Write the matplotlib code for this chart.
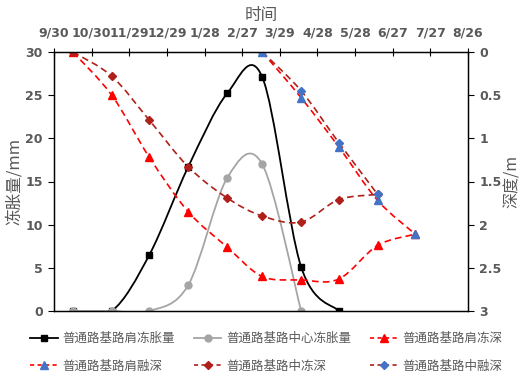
import numpy as np
import matplotlib
matplotlib.use("Agg")
import matplotlib.pyplot as plt
import matplotlib.dates as mdates
from matplotlib.path import Path
from matplotlib.patches import PathPatch
from matplotlib.lines import Line2D
import datetime as dt

plt.rcParams['font.family'] = ['Noto Sans CJK SC', 'DejaVu Sans']

# ---------------- data ----------------
dates = ['2018-10-15', '2018-11-15', '2018-12-15', '2019-01-15', '2019-02-15',
         '2019-03-15', '2019-04-15', '2019-05-15', '2019-06-15', '2019-07-15']
tick_labels = ['9/30', '10/30', '11/29', '12/29', '1/28', '2/27', '3/29',
               '4/28', '5/28', '6/27', '7/27', '8/26']

shoulder_heave = [0, 0, 6.5, 16.7, 25.2, 27.1, 5.1, 0]          # 10/15 .. 5/15
center_heave = [0, 0, 0, 3.0, 15.4, 17.0, 0]                    # 10/15 .. 4/15
shoulder_freeze = [0, 0.50, 1.22, 1.85, 2.26, 2.60, 2.64, 2.63, 2.24, 2.11]  # 10/15 .. 7/15
shoulder_thaw = [0, 0.53, 1.10, 1.72, 2.11]                      # 3/15 .. 7/15
center_freeze = [0, 0.28, 0.79, 1.33, 1.69, 1.90, 1.97, 1.71, 1.65]          # 10/15 .. 6/15
center_thaw = [0, 0.45, 1.05, 1.65]                              # 3/15 .. 6/15

labels = ['普通路基路肩冻胀量', '普通路基路中心冻胀量', '普通路基路肩冻深',
          '普通路基路肩融深', '普通路基路中冻深', '普通路基路中融深']

x_all = mdates.date2num([dt.datetime.strptime(d, '%Y-%m-%d') for d in dates])
start = mdates.date2num(dt.datetime(2018, 9, 30))
tick_pos = start + 30 * np.arange(len(tick_labels))


def smooth_path(xs, ys):
    pts = np.column_stack([xs, ys]).astype(float)
    n = len(pts)
    verts = [pts[0]]
    codes = [Path.MOVETO]
    for i in range(n - 1):
        p0 = pts[i - 1] if i > 0 else pts[i]
        p1 = pts[i]
        p2 = pts[i + 1]
        p3 = pts[i + 2] if i + 2 < n else pts[i + 1]
        c1 = p1 + (p2 - p0) / 6.0
        c2 = p2 - (p3 - p1) / 6.0
        verts += [c1, c2, p2]
        codes += [Path.CURVE4] * 3
    return Path(verts, codes)


GRAY_TXT = '#595959'
fig = plt.figure(figsize=(5.21, 3.77), dpi=100)
ax = fig.add_axes([54 / 521, 1 - 311 / 377, (468 - 54) / 521, (311 - 52) / 377])
ax2 = ax.twinx()

series = [
    # axis, x, y, line color, ls, marker, marker color, ms
    (ax, x_all[:8], shoulder_heave, 'black', '-', 's', 'black', 5),
    (ax, x_all[:7], center_heave, '#A5A5A5', '-', 'o', '#A5A5A5', 5),
    (ax2, x_all[:10], shoulder_freeze, '#FF0000', '--', '^', '#FF0000', 5.5),
    (ax2, x_all[5:10], shoulder_thaw, '#FF0000', '--', '^', '#4472C4', 5.5),
    (ax2, x_all[:9], center_freeze, '#B0201A', '--', 'D', '#B0201A', 4),
    (ax2, x_all[5:9], center_thaw, '#B0201A', '--', 'D', '#4472C4', 4),
]

handles = []
for (a, xs, ys, lc, ls, mk, mc, ms), lab in zip(series, labels):
    lw = 1.3 if ls == '-' else 1.2
    patch = PathPatch(smooth_path(xs, ys), facecolor='none', edgecolor=lc,
                      lw=lw, linestyle=(0, (4, 2.5)) if ls == '--' else '-',
                      clip_on=True)
    a.add_patch(patch)
    a.plot(xs, ys, linestyle='none', marker=mk, color=mc, markersize=ms,
           markeredgecolor=mc)
    handles.append(Line2D([], [], color=lc, lw=lw,
                          linestyle=(0, (2.5, 2)) if ls == '--' else '-',
                          marker=mk, markersize=ms, markerfacecolor=mc,
                          markeredgecolor=mc, label=lab))

ax.set_xlim(tick_pos[0], tick_pos[-1])
ax.set_ylim(0, 30)
ax.set_yticks(np.arange(0, 31, 5))
ax2.set_ylim(3, 0)
ax2.set_yticks([0, 0.5, 1, 1.5, 2, 2.5, 3])
ax2.set_yticklabels(['0', '0.5', '1', '1.5', '2', '2.5', '3'])

ax.xaxis.tick_top()
ax.xaxis.set_label_position('top')
ax.set_xticks(tick_pos)
ax.set_xticklabels(tick_labels)
ax.tick_params(axis='x', direction='inout', length=6, width=0.8, colors='black',
               labelcolor=GRAY_TXT, labelsize=9, pad=6)
ax.tick_params(axis='y', direction='out', length=4, width=0.8, colors='black',
               labelcolor=GRAY_TXT, labelsize=9, pad=4)
ax2.tick_params(axis='y', direction='out', length=4, width=0.8, colors='black',
                labelcolor=GRAY_TXT, labelsize=9, pad=4)
for lab in ax.get_xticklabels() + ax.get_yticklabels() + ax2.get_yticklabels():
    lab.set_fontweight('bold')
    lab.set_family(['DejaVu Sans'])

for a in (ax, ax2):
    for s in a.spines.values():
        s.set_color('black')
        s.set_linewidth(0.9)

ax.set_xlabel('时间', fontsize=12, color=GRAY_TXT, labelpad=5)
ax.set_ylabel('冻胀量/mm', fontsize=12, color=GRAY_TXT, labelpad=2)
ax2.set_ylabel('深度/m', fontsize=11.5, color=GRAY_TXT, rotation=90, labelpad=2)

order = [0, 3, 1, 4, 2, 5]
fig.legend([handles[i] for i in order], [labels[i] for i in order],
           loc='upper left', bbox_to_anchor=(30 / 521, 1 - 332 / 377), ncol=3,
           frameon=False, fontsize=9, labelcolor=GRAY_TXT, numpoints=1,
           handlelength=2.2, handletextpad=0.4, columnspacing=1.5,
           labelspacing=1.15, borderpad=0, borderaxespad=0)

fig.savefig('out.png', dpi=100)
